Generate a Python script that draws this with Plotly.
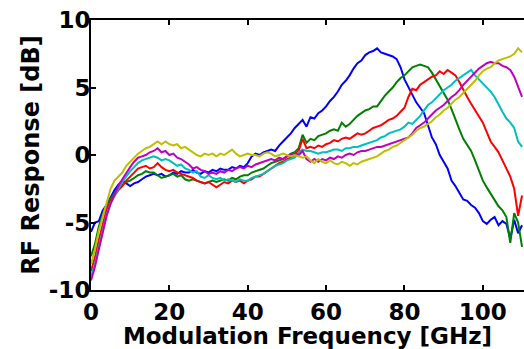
import plotly.graph_objects as go

freq = list(range(0, 111))

blue = [-5.7, -5.0, -4.9, -4.1, -3.7, -3.1, -2.6, -2.2, -1.9, -2.1, -2.3, -2.1, -2.0, -1.8, -1.6, -1.5, -1.4, -1.5, -1.4, -1.6,
        -1.5, -1.3, -1.4, -1.2, -1.3, -1.3, -1.1, -1.3, -1.4, -1.2, -1.3, -1.1, -1.2, -1.0, -1.1, -1.1, -0.9, -1.0, -0.8, -0.9,
        -0.6, -0.1, 0.1, 0.0, 0.2, 0.3, 0.4, 0.3, 0.7, 1.0, 1.3, 1.6, 2.0, 2.3, 2.6, 2.1, 2.8, 2.7, 3.1, 3.3,
        3.6, 4.0, 4.3, 4.7, 5.2, 5.5, 5.9, 6.4, 6.8, 7.0, 7.4, 7.6, 7.7, 7.9, 7.6, 7.5, 7.4, 7.3, 7.1, 6.5,
        5.6, 5.0, 4.4, 3.9, 3.5, 3.1, 2.2, 1.3, 0.8, 0.0, -0.5, -1.0, -1.9, -2.3, -2.8, -3.3, -3.4, -3.7, -3.9, -4.3,
        -4.9, -5.1, -4.8, -4.6, -5.2, -4.9, -5.1, -6.2, -4.8, -5.8, -5.2]

green = [-7.5, -6.6, -5.3, -4.4, -3.7, -3.2, -2.8, -2.5, -2.2, -2.0, -1.9, -1.7, -1.5, -1.4, -1.2, -1.3, -1.3, -1.5, -1.7, -1.6,
         -1.5, -1.4, -1.6, -1.5, -1.8, -1.9, -1.8, -1.9, -2.0, -2.1, -2.0, -1.9, -2.0, -1.9, -1.8, -1.9, -1.7, -1.8, -1.6, -1.5,
         -1.5, -1.3, -1.2, -1.1, -1.0, -0.8, -0.6, -0.5, -0.4, -0.3, -0.1, 0.1, 0.2, 0.5, 1.5, 0.9, 1.2, 1.1, 1.4, 1.5,
         1.6, 1.8, 1.9, 1.8, 2.4, 2.1, 2.3, 2.6, 2.9, 3.1, 3.3, 3.4, 3.6, 3.6, 4.0, 4.4, 4.7, 5.0, 5.4, 5.7,
         5.9, 6.2, 6.5, 6.6, 6.7, 6.6, 6.5, 6.1, 5.6, 5.0, 4.6, 4.1, 3.4, 2.6, 1.9, 1.2, 0.7, 0.3, -0.4, -1.2,
         -1.9, -2.4, -2.9, -3.4, -3.8, -4.1, -4.6, -6.5, -4.3, -5.0, -6.8]

red = [-8.6, -7.6, -6.3, -5.1, -4.0, -3.4, -3.0, -2.6, -2.3, -1.9, -1.6, -1.3, -1.0, -0.9, -0.8, -1.0, -0.9, -0.6, -0.9, -1.1,
       -1.2, -1.1, -1.3, -1.4, -1.5, -1.6, -1.7, -1.9, -2.0, -2.1, -2.0, -2.2, -2.4, -2.2, -2.0, -2.1, -1.9, -2.0, -1.9, -2.1,
       -1.9, -1.8, -1.6, -1.6, -1.4, -1.2, -1.0, -0.8, -0.6, -0.5, -0.3, -0.2, 0.0, 0.3, 1.2, 0.5, 0.6, 0.5, 0.7, 0.6,
       0.8, 0.9, 1.1, 1.0, 1.2, 1.3, 1.2, 1.4, 1.6, 1.5, 1.6, 1.8, 2.0, 2.1, 2.2, 2.4, 2.6, 2.7, 2.9, 3.2,
       3.5, 4.3, 4.9, 4.8, 5.2, 5.4, 5.6, 5.8, 5.9, 6.2, 6.0, 6.3, 6.1, 5.9, 5.4, 4.8, 4.3, 3.8, 3.3, 2.8,
       2.4, 1.7, 1.0, 0.6, 0.2, -0.4, -1.0, -1.6, -2.5, -4.5, -3.0]

cyan = [-9.0, -8.1, -6.8, -5.5, -4.4, -3.6, -3.0, -2.5, -2.0, -1.6, -1.2, -0.9, -0.6, -0.4, -0.3, -0.2, -0.1, -0.2, -0.4, -0.3,
        -0.4, -0.6, -0.8, -0.7, -1.0, -1.1, -1.3, -1.2, -1.6, -1.7, -1.5, -1.7, -1.8, -1.7, -1.9, -1.8, -1.9, -2.0, -1.8, -1.9,
        -1.9, -1.7, -1.6, -1.5, -1.4, -1.2, -1.0, -0.8, -0.7, -0.6, -0.4, -0.3, -0.2, 0.2, 0.4, 0.3, 0.3, 0.2, 0.1, 0.2,
        0.2, 0.3, 0.4, 0.4, 0.3, 0.5, 0.5, 0.6, 0.6, 0.7, 0.8, 0.9, 1.0, 1.1, 1.3, 1.4, 1.6, 1.7, 1.8, 1.9,
        2.1, 2.4, 2.3, 2.6, 2.9, 3.3, 3.7, 3.9, 4.2, 4.5, 4.8, 5.0, 5.2, 5.5, 5.7, 5.9, 6.1, 6.3, 5.9, 5.6,
        5.3, 5.0, 4.7, 4.3, 3.7, 3.2, 2.7, 2.4, 2.0, 1.0, 0.6]

magenta = [-9.3, -8.3, -7.0, -5.7, -4.5, -3.6, -2.9, -2.3, -1.8, -1.3, -0.9, -0.5, -0.2, -0.1, 0.0, 0.2, 0.3, 0.5, 0.2, 0.3,
           0.0, 0.1, -0.2, -0.3, -0.5, -0.7, -1.0, -0.9, -1.1, -1.2, -1.4, -1.3, -1.4, -1.2, -1.3, -1.1, -1.2, -1.0, -0.9, -1.0,
           -0.8, -0.9, -0.7, -0.6, -0.5, -0.4, -0.3, -0.4, -0.2, -0.3, -0.1, 0.0, 0.1, 0.0, 0.3, -0.3, -0.5, -0.3, -0.5, -0.3,
           -0.4, -0.2, -0.3, -0.1, -0.2, 0.0, 0.1, 0.0, 0.2, 0.3, 0.3, 0.4, 0.5, 0.6, 0.6, 0.7, 0.8, 0.9, 1.0, 1.1,
           1.2, 1.3, 1.6, 2.0, 2.2, 2.4, 2.7, 3.0, 3.3, 3.5, 3.7, 4.0, 4.3, 4.5, 4.8, 5.2, 5.5, 5.8, 6.1, 6.4,
           6.6, 6.8, 6.9, 6.8, 6.8, 6.6, 6.5, 6.3, 5.8, 5.0, 4.3]

yellow = [-8.1, -7.0, -5.6, -4.5, -3.4, -2.5, -1.9, -1.6, -1.3, -0.8, -0.5, -0.2, 0.1, 0.3, 0.5, 0.6, 0.8, 1.0, 0.8, 1.0,
          0.8, 0.7, 0.8, 0.5, 0.6, 0.4, 0.2, 0.0, -0.1, 0.1, 0.0, 0.1, -0.1, 0.1, 0.0, 0.2, 0.4, 0.1, -0.1, 0.0,
          0.1, 0.0, 0.0, -0.1, 0.1, 0.2, 0.1, -0.1, 0.0, 0.1, 0.0, -0.1, 0.0, -0.1, -0.2, -0.1, -0.4, -0.6, -0.3, -0.5,
          -0.6, -0.4, -0.6, -0.7, -0.5, -0.6, -0.8, -0.6, -0.7, -0.5, -0.4, -0.3, -0.2, -0.1, 0.1, 0.3, 0.4, 0.6, 0.7, 0.9,
          1.1, 1.3, 1.5, 1.8, 2.0, 2.1, 2.3, 2.5, 2.8, 3.0, 3.3, 3.5, 3.8, 4.1, 4.3, 4.6, 4.9, 5.2, 5.5, 5.9,
          6.2, 6.4, 6.5, 6.8, 7.0, 7.1, 7.2, 7.3, 7.5, 7.9, 7.6]

series = [
    (blue, "#0000FF"),
    (green, "#008000"),
    (red, "#FF0000"),
    (cyan, "#00BFBF"),
    (magenta, "#BF00BF"),
    (yellow, "#BFBF00"),
]

x_ticks = [0, 20, 40, 60, 80, 100]
x_labels = ["0", "20", "40", "60", "80", "100"]
y_ticks = [-10, -5, 0, 5, 10]
y_labels = ["-10", "-5", "0", "5", "10"]

fig = go.Figure()
for vals, col in series:
    fig.add_trace(go.Scatter(x=freq, y=vals, mode="lines",
                             line=dict(color=col, width=2), showlegend=False))

fam = "DejaVu Sans, Arial, sans-serif"
tick_font = dict(family=fam, size=23, color="black", weight="bold")
xt_font = dict(family=fam, size=23, color="black", weight="bold")
yt_font = dict(family=fam, size=24, color="black", weight="bold")

fig.update_layout(
    width=524, height=349,
    margin=dict(l=91, r=0, t=20, b=59),
    paper_bgcolor="white", plot_bgcolor="white",
    xaxis=dict(range=[0, 110.5], tickvals=x_ticks, ticktext=x_labels, ticks="inside", ticklen=5, tickwidth=1.5,
               tickcolor="black", showline=True, linecolor="black", linewidth=2, mirror="ticks",
               showgrid=False, zeroline=False, tickfont=tick_font, automargin=False,
               title=dict(text="Modulation Frequency [GHz]", font=xt_font, standoff=3)),
    yaxis=dict(range=[-10, 10], tickvals=y_ticks, ticktext=y_labels, ticks="inside", ticklen=5, tickwidth=1.5,
               tickcolor="black", showline=True, linecolor="black", linewidth=2, mirror=False,
               showgrid=False, zeroline=False, tickfont=tick_font, automargin=False,
               ticklabelstandoff=-6,
               title=dict(text="RF Response [dB]", font=yt_font, standoff=2)),
)

fig.write_html("out.html", config={"displayModeBar": False},
               post_script="document.body.style.margin='0px';document.body.style.overflow='hidden';")
